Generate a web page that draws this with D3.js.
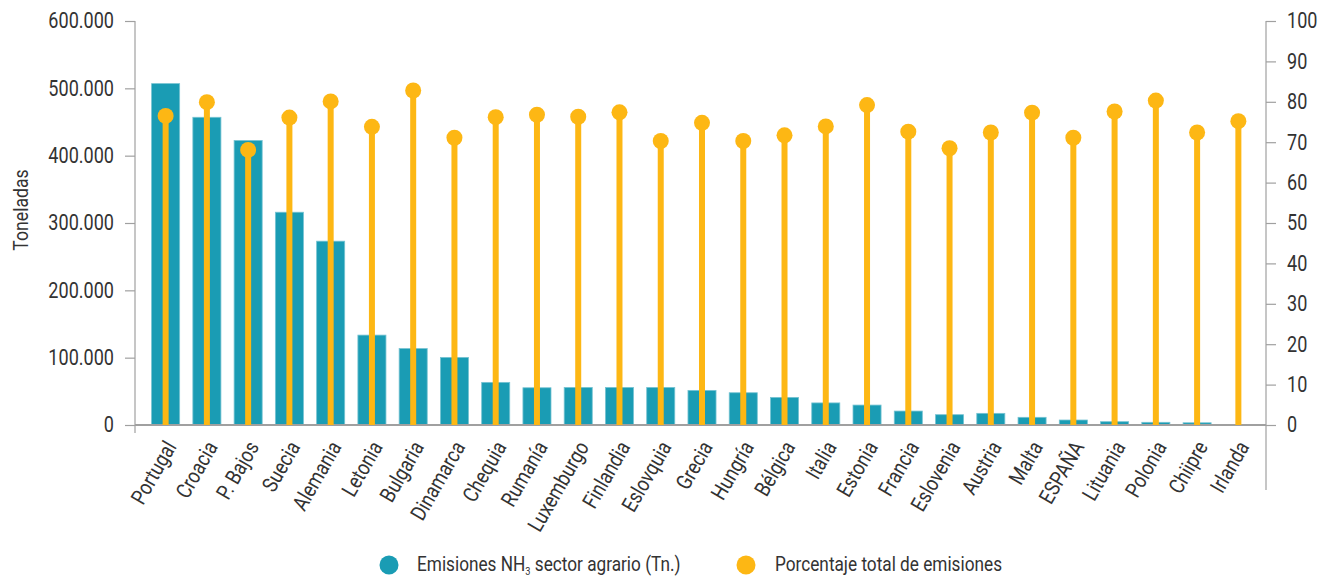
<!DOCTYPE html>
<html>
<head>
<meta charset="utf-8">
<script src="https://cdn.jsdelivr.net/npm/d3@7"></script>
<style>
  body { margin: 0; background: #fff; }
  svg text { font-family: Roboto, "Noto Sans", sans-serif; fill: #333; }
</style>
</head>
<body>
<div id="chart"></div>
<script>
// Data
const countries = ["Portugal", "Croacia", "P. Bajos", "Suecia", "Alemania", "Letonia", "Bulgaria", "Dinamarca",
    "Chequia", "Rumanía", "Luxemburgo", "Finlandia", "Eslovquia", "Grecia", "Hungría", "Bélgica", "Italia",
    "Estonia", "Francia", "Eslovenia", "Austria", "Malta", "ESPAÑA", "Lituania", "Polonia", "Chiipre", "Irlanda"];
const emissions = [507000, 457000, 422500, 316000, 273000, 133500, 113500, 100400,
    63300, 55300, 55800, 55800, 55800, 51400, 47900, 41000, 32800,
    29600, 20700, 15300, 17300, 11400, 7400, 4900, 4000, 3300, 0];
const percentages = [76.5, 79.9, 68.1, 76.1, 80.1, 73.8, 82.8, 71.1,
    76.2, 76.8, 76.3, 77.4, 70.3, 74.8, 70.3, 71.7, 73.9,
    79.2, 72.6, 68.5, 72.4, 77.3, 71.1, 77.6, 80.3, 72.4, 75.2];
const leftTicks = [0, 100000, 200000, 300000, 400000, 500000, 600000];
const rightTicks = [0, 10, 20, 30, 40, 50, 60, 70, 80, 90, 100];

const teal = "#1a9cb4";
const gold = "#fdb714";
const axisColor = "#a0a0a0";
const squeeze = 0.84; // the original uses a condensed face

const W = 1319, H = 579;
const svg = d3.select("#chart").append("svg")
    .attr("width", W)
    .attr("height", H);

const plotLeft = 135, plotRight = 1266, plotTop = 21, plotBottom = 425;

// Scales
const x = d3.scaleBand()
    .domain(countries)
    .range([145, 1259])
    .paddingInner(0.32)
    .paddingOuter(0.16);

const yLeft = d3.scaleLinear().domain([0, 600000]).range([plotBottom, plotTop]);
const yRight = d3.scaleLinear().domain([0, 100]).range([plotBottom, plotTop]);

const fmt = d => d3.format(",")(d).replace(/,/g, ".");

// squeeze tick text horizontally, keeping its anchor point
function condense(sel) {
    sel.each(function () {
        const t = d3.select(this);
        const xv = +t.attr("x") || 0;
        t.attr("x", xv / squeeze).attr("transform", `scale(${squeeze},1)`);
    });
}

// Left axis
const gLeft = svg.append("g")
    .attr("transform", `translate(${plotLeft},0)`)
    .call(d3.axisLeft(yLeft).tickValues(leftTicks).tickFormat(fmt).tickSize(10).tickPadding(11));
gLeft.select(".domain").remove();
gLeft.selectAll(".tick line").attr("stroke", axisColor).attr("stroke-width", 1.2);
gLeft.selectAll(".tick text").style("font-size", "21.5px").attr("fill", "#333").call(condense);

// Right axis
const gRight = svg.append("g")
    .attr("transform", `translate(${plotRight},0)`)
    .call(d3.axisRight(yRight).tickValues(rightTicks).tickSize(10).tickPadding(11));
gRight.select(".domain").remove();
gRight.selectAll(".tick line").attr("stroke", axisColor).attr("stroke-width", 1.2);
gRight.selectAll(".tick text").style("font-size", "21.5px").attr("fill", "#333").call(condense);

// Axis lines
svg.append("line").attr("x1", plotLeft).attr("x2", plotLeft).attr("y1", plotTop).attr("y2", 433)
    .attr("stroke", axisColor).attr("stroke-width", 1.2);
svg.append("line").attr("x1", plotRight).attr("x2", plotRight).attr("y1", plotTop).attr("y2", 490)
    .attr("stroke", axisColor).attr("stroke-width", 1.2);

// Y title
svg.append("text")
    .attr("transform", `translate(28,210) rotate(-90) scale(${squeeze},1)`)
    .attr("text-anchor", "middle")
    .style("font-size", "21px")
    .text("Toneladas");

// Bars
svg.append("g").selectAll("rect")
    .data(countries)
    .enter().append("rect")
    .attr("x", d => x(d))
    .attr("y", (d, i) => yLeft(emissions[i]))
    .attr("width", x.bandwidth())
    .attr("height", (d, i) => plotBottom - yLeft(emissions[i]))
    .attr("fill", teal)
    .attr("stroke", "#76c3d2")
    .attr("stroke-width", 0.8);

// Baseline
svg.append("line").attr("x1", plotLeft).attr("x2", plotRight).attr("y1", plotBottom).attr("y2", plotBottom)
    .attr("stroke", axisColor).attr("stroke-width", 2);

// Lollipops
const cx = d => x(d) + x.bandwidth() / 2;
svg.append("g").selectAll("line")
    .data(countries)
    .enter().append("line")
    .attr("x1", cx).attr("x2", cx)
    .attr("y1", plotBottom)
    .attr("y2", (d, i) => yRight(percentages[i]))
    .attr("stroke", gold)
    .attr("stroke-width", 6);

svg.append("g").selectAll("circle")
    .data(countries)
    .enter().append("circle")
    .attr("cx", cx)
    .attr("cy", (d, i) => yRight(percentages[i]))
    .attr("r", 8)
    .attr("fill", gold);

// Country labels
svg.append("g").selectAll("text")
    .data(countries)
    .enter().append("text")
    .attr("transform", d => `translate(${cx(d) + 5},443) rotate(-60) scale(${squeeze},1)`)
    .attr("text-anchor", "end")
    .attr("dy", "0.35em")
    .style("font-size", "21.5px")
    .text(d => d);

// Legend
const legend = svg.append("g");
legend.append("circle").attr("cx", 389).attr("cy", 565).attr("r", 9.5).attr("fill", teal);
const t1 = legend.append("text")
    .attr("transform", `translate(417,571) scale(${squeeze},1)`)
    .style("font-size", "20.5px");
t1.append("tspan").text("Emisiones NH");
t1.append("tspan").attr("dy", 4).style("font-size", "11px").text("3");
t1.append("tspan").attr("dy", -4).text(" sector agrario (Tn.)");

legend.append("circle").attr("cx", 746).attr("cy", 565).attr("r", 9.5).attr("fill", gold);
legend.append("text")
    .attr("transform", `translate(775,571) scale(${squeeze},1)`)
    .style("font-size", "20.5px")
    .text("Porcentaje total de emisiones");
</script>
</body>
</html>
